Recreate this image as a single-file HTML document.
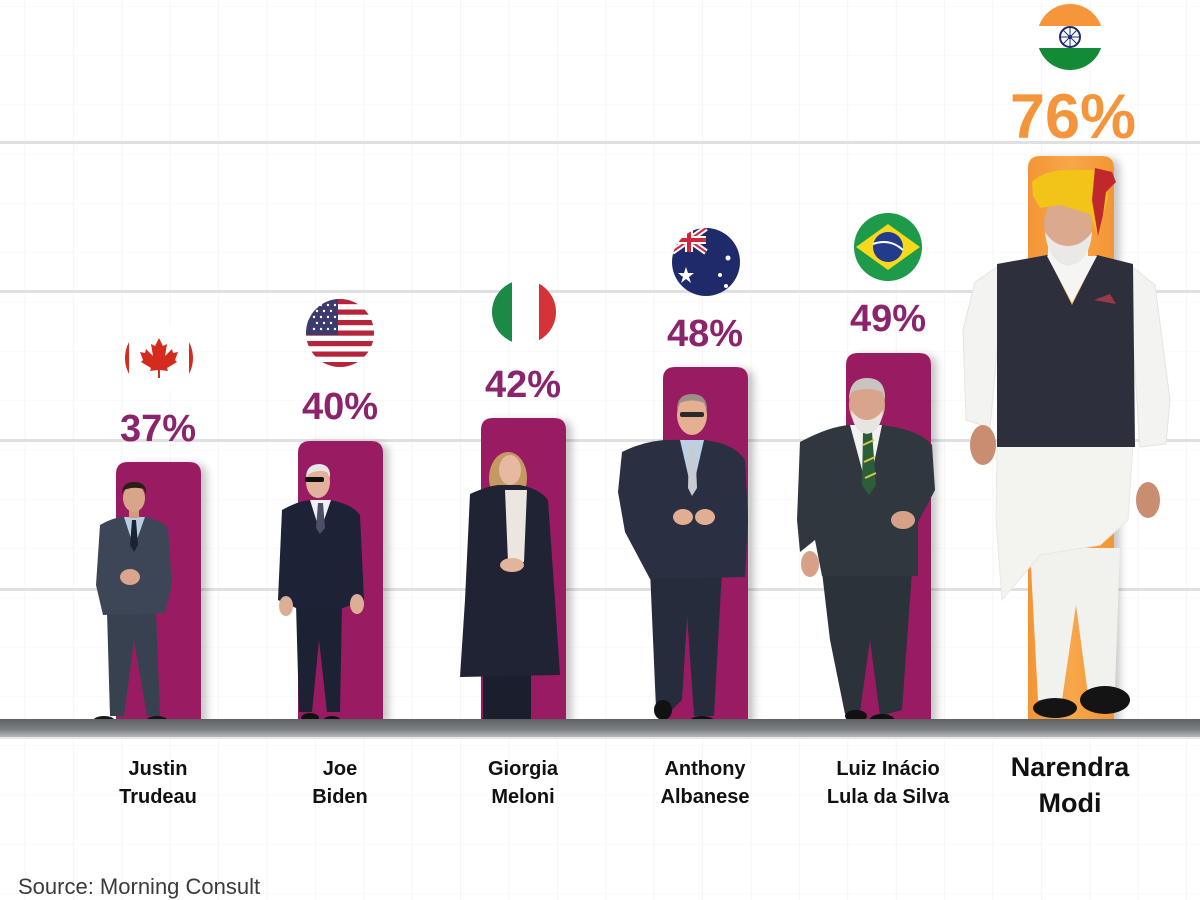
<!DOCTYPE html>
<html><head><meta charset="utf-8"><style>
html,body{margin:0;padding:0;background:#fff;}
svg{display:block;}
text{font-family:"Liberation Sans",Arial,sans-serif;}
</style></head><body>
<svg width="1200" height="900" viewBox="0 0 1200 900" xmlns="http://www.w3.org/2000/svg">
<defs>
<pattern id="grid" x="1" y="6" width="48.4" height="49.3" patternUnits="userSpaceOnUse">
<path d="M24 0 V49.3 M0 0 H48.4" stroke="#f5f5f5" stroke-width="1" fill="none"/>
</pattern>
<filter id="sh" x="-30%" y="-10%" width="160%" height="130%">
<feDropShadow dx="6" dy="2" stdDeviation="4" flood-color="#000" flood-opacity="0.22"/>
</filter>
<linearGradient id="base" x1="0" y1="0" x2="0" y2="1">
<stop offset="0" stop-color="#5b6064"/><stop offset="0.6" stop-color="#7d8286"/><stop offset="1" stop-color="#b7babc"/>
</linearGradient>
<linearGradient id="org" x1="0" y1="0" x2="1" y2="0">
<stop offset="0" stop-color="#f39535"/><stop offset="0.5" stop-color="#f7a749"/><stop offset="1" stop-color="#f39535"/>
</linearGradient>
<clipPath id="cCA"><circle cx="159" cy="358" r="34"/></clipPath>
<clipPath id="cUS"><circle cx="340" cy="333" r="34"/></clipPath>
<clipPath id="cIT"><circle cx="524" cy="312" r="32"/></clipPath>
<clipPath id="cAU"><circle cx="706" cy="262" r="34"/></clipPath>
<clipPath id="cBR"><circle cx="888" cy="247" r="34"/></clipPath>
<clipPath id="cIN"><circle cx="1070" cy="37" r="33"/></clipPath>
</defs>

<rect width="1200" height="900" fill="#fff"/>
<rect width="1200" height="900" fill="url(#grid)"/>
<g fill="#e0e0e0">
<rect x="0" y="141" width="1200" height="3"/>
<rect x="0" y="290" width="1200" height="3"/>
<rect x="0" y="439" width="1200" height="3"/>
<rect x="0" y="588" width="1200" height="3"/>
</g>

<!-- bars -->
<g filter="url(#sh)">
<path d="M116 474 Q116 462 128 462 L189 462 Q201 462 201 474 L201 722 L116 722 Z" fill="#991b63"/>
<path d="M298 453 Q298 441 310 441 L371 441 Q383 441 383 453 L383 722 L298 722 Z" fill="#991b63"/>
<path d="M481 430 Q481 418 493 418 L554 418 Q566 418 566 430 L566 722 L481 722 Z" fill="#991b63"/>
<path d="M663 379 Q663 367 675 367 L736 367 Q748 367 748 379 L748 722 L663 722 Z" fill="#991b63"/>
<path d="M846 365 Q846 353 858 353 L919 353 Q931 353 931 365 L931 722 L846 722 Z" fill="#991b63"/>
<path d="M1028 168 Q1028 156 1040 156 L1102 156 Q1114 156 1114 168 L1114 722 L1028 722 Z" fill="url(#org)"/>
</g>

<!-- Trudeau -->
<g>
<path d="M107 612 L156 612 L160 716 L147 716 L134 640 L124 716 L110 716 Z" fill="#384150"/>
<ellipse cx="104" cy="721" rx="11" ry="5" fill="#151515"/>
<ellipse cx="157" cy="721" rx="11" ry="5" fill="#151515"/>
<path d="M100 525 Q112 518 122 517 L146 517 Q160 520 168 528 L172 585 L165 613 L103 615 L96 585 Z" fill="#3d4656"/>
<polygon points="124,517 145,517 134,548" fill="#b9cde0"/>
<polygon points="132,520 136,520 138,545 134,552 130,545" fill="#1b2233"/>
<ellipse cx="130" cy="577" rx="10" ry="8" fill="#d9a58c"/>
<rect x="129" y="508" width="10" height="10" fill="#d29a80"/>
<ellipse cx="134" cy="498" rx="11" ry="14" fill="#d9a58a"/>
<path d="M122 494 Q122 482 134 482 Q147 482 146 494 L144 489 Q134 486 124 490 Z" fill="#2a1e18"/>
</g>

<!-- Biden -->
<g>
<path d="M296 604 L342 604 L340 712 L327 712 L319 640 L312 712 L299 712 Z" fill="#1c2133"/>
<ellipse cx="310" cy="718" rx="9" ry="5" fill="#111"/>
<ellipse cx="332" cy="721" rx="9" ry="5" fill="#111"/>
<path d="M282 510 Q300 500 312 500 L330 500 Q352 504 360 515 L364 600 L343 608 L296 608 L278 600 Z" fill="#1d2236"/>
<polygon points="310,500 331,500 320,532" fill="#f0f0f0"/>
<polygon points="318,503 323,503 325,528 320,534 316,528" fill="#4a5068"/>
<ellipse cx="286" cy="606" rx="7" ry="10" fill="#dcae96"/>
<ellipse cx="357" cy="604" rx="7" ry="10" fill="#dcae96"/>
<ellipse cx="318" cy="482" rx="12" ry="16" fill="#e0b39a"/>
<path d="M306 478 Q306 464 320 464 Q331 465 330 478 L327 472 Q318 469 309 474 Z" fill="#e6e6e6"/>
<rect x="305" y="477" width="19" height="5" rx="2" fill="#111"/>
</g>

<!-- Meloni -->
<g>
<rect x="483" y="670" width="48" height="52" fill="#1b1e2c"/>
<ellipse cx="493" cy="723" rx="9" ry="4" fill="#111"/>
<ellipse cx="520" cy="723" rx="9" ry="4" fill="#111"/>
<ellipse cx="508" cy="478" rx="19" ry="26" fill="#c49a62"/>
<path d="M470 494 Q490 485 500 485 L520 485 Q540 489 548 500 L555 600 L560 675 L460 677 L465 600 Z" fill="#1f2334"/>
<path d="M505 490 L527 490 L524 562 L508 562 Z" fill="#ece6e0"/>
<ellipse cx="512" cy="565" rx="12" ry="7" fill="#e2b49a"/>
<ellipse cx="510" cy="470" rx="11" ry="15" fill="#e6b9a0"/>
</g>

<!-- Albanese -->
<g>
<polygon points="650,570 690,570 682,700 670,712 656,708" fill="#272c3d"/>
<polygon points="684,570 722,570 714,716 694,716" fill="#272c3d"/>
<ellipse cx="663" cy="710" rx="9" ry="10" fill="#111"/>
<ellipse cx="702" cy="722" rx="13" ry="6" fill="#111"/>
<path d="M622 452 Q650 438 680 440 L705 440 Q735 444 745 460 L748 520 L745 577 L650 579 L625 532 L618 492 Z" fill="#2a2f42"/>
<polygon points="680,440 704,440 692,492" fill="#bcd0e4"/>
<polygon points="689,444 695,444 697,488 692,496 688,488" fill="#c8ccd2"/>
<ellipse cx="683" cy="517" rx="10" ry="8" fill="#e2ae92"/>
<ellipse cx="705" cy="517" rx="10" ry="8" fill="#e2ae92"/>
<ellipse cx="692" cy="415" rx="15" ry="20" fill="#e5b092"/>
<path d="M677 410 Q677 394 692 394 Q707 394 707 410 L704 403 Q692 398 680 403 Z" fill="#9a9088"/>
<rect x="680" y="412" width="24" height="5" rx="2" fill="#2b2b2b"/>
</g>

<!-- Lula -->
<g>
<polygon points="822,572 912,572 902,710 880,716 870,640 860,712 845,714 830,640" fill="#2c3239"/>
<ellipse cx="856" cy="716" rx="11" ry="6" fill="#111"/>
<ellipse cx="882" cy="721" rx="13" ry="7" fill="#111"/>
<path d="M800 442 Q830 426 850 425 L882 425 Q920 430 932 445 L935 490 L918 522 L918 576 L822 576 L815 540 L800 552 L797 520 Z" fill="#31373f"/>
<polygon points="850,425 882,425 868,492" fill="#f2f2f2"/>
<polygon points="863,432 872,432 876,485 869,495 862,485" fill="#2d5e3a"/>
<line x1="863" y1="445" x2="874" y2="440" stroke="#d8c846" stroke-width="2"/>
<line x1="864" y1="462" x2="875" y2="457" stroke="#d8c846" stroke-width="2"/>
<line x1="865" y1="478" x2="876" y2="473" stroke="#d8c846" stroke-width="2"/>
<ellipse cx="810" cy="564" rx="9" ry="13" fill="#d6a186"/>
<ellipse cx="903" cy="520" rx="12" ry="9" fill="#d6a186"/>
<ellipse cx="867" cy="405" rx="18" ry="24" fill="#d8a58c"/>
<path d="M849 400 Q849 378 867 378 Q886 378 885 400 L882 392 Q867 386 852 392 Z" fill="#c8c4c0"/>
<path d="M851 410 Q853 432 867 434 Q881 432 883 410 Q876 420 867 420 Q858 420 851 410 Z" fill="#e8e4e0"/>
</g>

<!-- Modi -->
<g>
<path d="M1030 548 L1120 548 L1115 690 L1088 695 L1076 605 L1062 700 L1038 700 Z" fill="#f1f1ee"/>
<path d="M997 445 L1133 445 L1128 520 L1100 545 L1040 555 L1002 600 L996 520 Z" fill="#f3f3f0" stroke="#e8e8e4" stroke-width="1"/>
<path d="M1000 265 L975 282 L963 330 L966 420 L990 428 L998 340 Z" fill="#f3f3f1" stroke="#e4e4e0" stroke-width="1"/>
<path d="M1130 265 L1155 285 L1170 400 L1166 444 L1140 447 L1133 340 Z" fill="#f3f3f1" stroke="#e4e4e0" stroke-width="1"/>
<ellipse cx="983" cy="445" rx="13" ry="20" fill="#c98e72"/>
<ellipse cx="1148" cy="500" rx="12" ry="18" fill="#c98e72"/>
<rect x="1048" y="245" width="40" height="20" fill="#f4f4f2"/>
<path d="M997 264 L1047 255 L1072 305 L1097 255 L1133 264 L1135 447 L997 447 Z" fill="#2d2f3d"/>
<polygon points="1047,256 1097,256 1072,303" fill="#f5f5f3"/>
<polygon points="1094,300 1110,294 1116,304" fill="#9a3a48"/>
<ellipse cx="1068" cy="224" rx="24" ry="30" fill="#dba98d"/>
<path d="M1045 232 Q1048 262 1068 266 Q1090 262 1092 232 Q1082 246 1068 246 Q1054 246 1045 232 Z" fill="#ebe9e6"/>
<path d="M1032 182 Q1045 168 1080 170 L1100 170 L1108 196 L1098 236 L1090 214 L1060 205 L1040 208 L1033 196 Z" fill="#f2c318"/>
<path d="M1095 168 L1112 172 L1116 182 L1106 192 L1103 215 L1098 236 L1092 200 Z" fill="#c0282c"/>
<ellipse cx="1055" cy="708" rx="22" ry="10" fill="#141414"/>
<ellipse cx="1105" cy="700" rx="25" ry="14" fill="#141414"/>
</g>

<!-- base -->
<rect x="0" y="719" width="1200" height="18" fill="url(#base)"/>
<rect x="0" y="737" width="1200" height="2" fill="#e6e6e6"/>

<!-- flags -->
<g clip-path="url(#cCA)">
<rect x="125" y="324" width="68" height="68" fill="#fff"/>
<rect x="123" y="324" width="6" height="68" fill="#d52b1e"/>
<rect x="189" y="324" width="6" height="68" fill="#d52b1e"/>
</g>
<path transform="translate(159,356)" d="M0,-18 L4,-10 L8,-12 L6,0 L13,-7 L14,-3 L19,-4 L16,4 L18,6 L8,12 L9,15 L1,14 L1,22 L-1,22 L-1,14 L-9,15 L-8,12 L-18,6 L-16,4 L-19,-4 L-14,-3 L-13,-7 L-6,0 L-8,-12 L-4,-10 Z" fill="#d52b1e"/>

<g clip-path="url(#cUS)">
<rect x="306" y="299" width="68" height="68" fill="#fff"/>
<g fill="#b5243a">
<rect x="306" y="299" width="68" height="5.2"/>
<rect x="306" y="309.5" width="68" height="5.2"/>
<rect x="306" y="320" width="68" height="5.2"/>
<rect x="306" y="330.5" width="68" height="5.2"/>
<rect x="306" y="341" width="68" height="5.2"/>
<rect x="306" y="351.5" width="68" height="5.2"/>
<rect x="306" y="362" width="68" height="5.2"/>
</g>
<rect x="306" y="299" width="32" height="36" fill="#3c3b6e"/>
<g fill="#fff">
<circle cx="314" cy="305" r="1.2"/><circle cx="321" cy="305" r="1.2"/><circle cx="328" cy="305" r="1.2"/><circle cx="335" cy="305" r="1.2"/>
<circle cx="317" cy="311" r="1.2"/><circle cx="324" cy="311" r="1.2"/><circle cx="331" cy="311" r="1.2"/>
<circle cx="314" cy="317" r="1.2"/><circle cx="321" cy="317" r="1.2"/><circle cx="328" cy="317" r="1.2"/><circle cx="335" cy="317" r="1.2"/>
<circle cx="317" cy="323" r="1.2"/><circle cx="324" cy="323" r="1.2"/><circle cx="331" cy="323" r="1.2"/>
<circle cx="314" cy="329" r="1.2"/><circle cx="321" cy="329" r="1.2"/><circle cx="328" cy="329" r="1.2"/><circle cx="335" cy="329" r="1.2"/>
</g>
</g>

<g clip-path="url(#cIT)">
<rect x="490" y="280" width="22" height="64" fill="#1b8a47"/>
<rect x="512" y="280" width="27" height="64" fill="#fff"/>
<rect x="539" y="280" width="22" height="64" fill="#d6323a"/>
</g>

<g clip-path="url(#cAU)">
<rect x="672" y="228" width="68" height="68" fill="#1f2a6b"/>
<path d="M672 228 L706 252 M706 228 L672 252" stroke="#fff" stroke-width="6"/>
<path d="M672 228 L706 252 M706 228 L672 252" stroke="#d0263a" stroke-width="2"/>
<path d="M689 228 V252 M672 240 H706" stroke="#fff" stroke-width="8"/>
<path d="M689 228 V252 M672 240 H706" stroke="#d0263a" stroke-width="4"/>
<polygon points="686,267 688,273 694,273 689,277 691,283 686,279 681,283 683,277 678,273 684,273" fill="#fff"/>
<circle cx="728" cy="258" r="2.5" fill="#fff"/>
<circle cx="720" cy="275" r="2" fill="#fff"/>
<circle cx="726" cy="286" r="2" fill="#fff"/>
</g>

<g clip-path="url(#cBR)">
<rect x="854" y="213" width="68" height="68" fill="#1d9a4a"/>
<polygon points="856,247 888,224 920,247 888,270" fill="#f6d81c"/>
<circle cx="888" cy="247" r="15" fill="#233b8b"/>
<path d="M873 244 Q890 238 903 250" stroke="#fff" stroke-width="2" fill="none"/>
</g>

<g clip-path="url(#cIN)">
<rect x="1037" y="4" width="66" height="22" fill="#f7953a"/>
<rect x="1037" y="26" width="66" height="22" fill="#fff"/>
<rect x="1037" y="48" width="66" height="23" fill="#138a36"/>
</g>
<circle cx="1070" cy="37" r="10" fill="none" stroke="#1e2a78" stroke-width="2"/>
<g stroke="#1e2a78" stroke-width="1">
<line x1="1060" y1="37" x2="1080" y2="37"/><line x1="1070" y1="27" x2="1070" y2="47"/>
<line x1="1063" y1="30" x2="1077" y2="44"/><line x1="1077" y1="30" x2="1063" y2="44"/>
</g>
<circle cx="1070" cy="37" r="2" fill="#1e2a78"/>

<!-- percentages -->
<g font-weight="bold" font-size="38" fill="#8b246c" text-anchor="middle">
<text x="158" y="441">37%</text>
<text x="340" y="419">40%</text>
<text x="523" y="397">42%</text>
<text x="705" y="346">48%</text>
<text x="888" y="331">49%</text>
</g>
<text x="1073" y="138" font-weight="bold" font-size="63" fill="#f4953c" text-anchor="middle">76%</text>

<!-- names -->
<g font-weight="bold" font-size="20" fill="#111" text-anchor="middle">
<text x="158" y="775">Justin</text><text x="158" y="803">Trudeau</text>
<text x="340" y="775">Joe</text><text x="340" y="803">Biden</text>
<text x="523" y="775">Giorgia</text><text x="523" y="803">Meloni</text>
<text x="705" y="775">Anthony</text><text x="705" y="803">Albanese</text>
<text x="888" y="775">Luiz Inácio</text><text x="888" y="803">Lula da Silva</text>
</g>
<g font-weight="bold" font-size="27" fill="#111" text-anchor="middle">
<text x="1070" y="776">Narendra</text><text x="1070" y="812">Modi</text>
</g>

<text x="18" y="894" font-size="22" fill="#3a3a3a">Source: Morning Consult</text>
</svg>
</body></html>
